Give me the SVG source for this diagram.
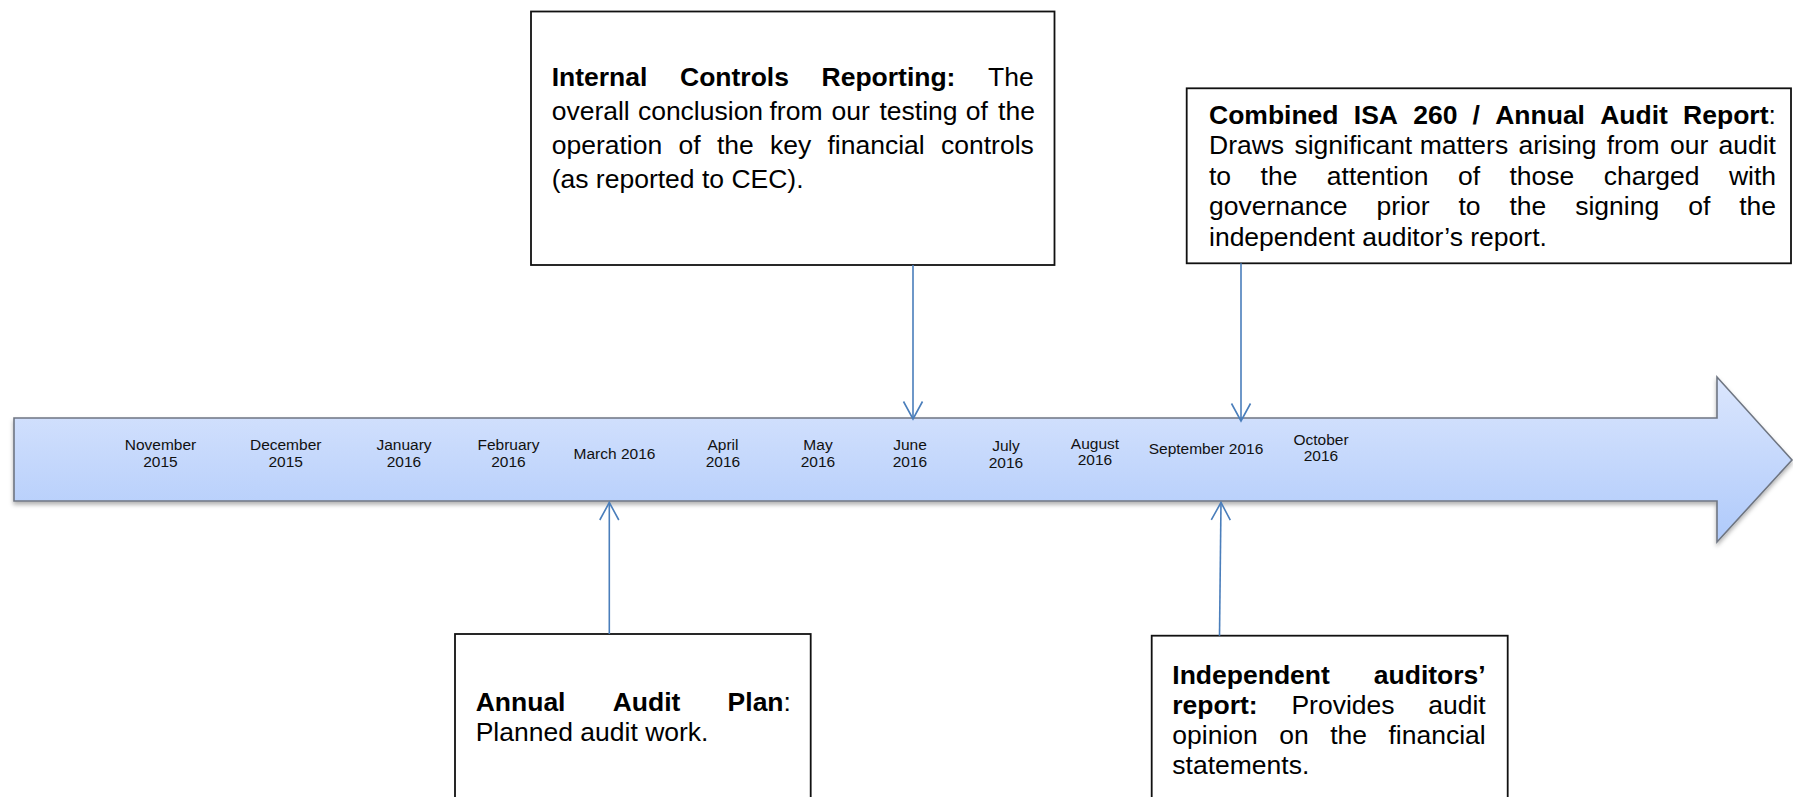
<svg xmlns="http://www.w3.org/2000/svg" width="1793" height="797" viewBox="0 0 1793 797">
  <defs>
    <linearGradient id="barFill" x1="0" y1="0" x2="0" y2="1">
      <stop offset="0" stop-color="#dbe6fd"/>
      <stop offset="1" stop-color="#afcafb"/>
    </linearGradient>
    <filter id="barShadow" x="-2%" y="-20%" width="104%" height="150%">
      <feDropShadow dx="0" dy="3" stdDeviation="2.2" flood-color="#000" flood-opacity="0.3"/>
    </filter>
    <marker id="openHead" markerUnits="userSpaceOnUse" markerWidth="24" markerHeight="24" viewBox="-20 -12 24 24" refX="0" refY="0" orient="auto" overflow="visible">
      <path d="M-17.5,-9.5 L0,0 L-17.5,9.5" fill="none" stroke="#4a7ebb" stroke-width="1.6"/>
    </marker>
    <style>
      .box { fill: #fff; stroke: #111; stroke-width: 1.8; }
      .t { font-family: "Liberation Sans", Arial, sans-serif; font-size: 26.5px; fill: #000; }
      .b { font-weight: bold; }
      .m { font-family: "Liberation Sans", Arial, sans-serif; font-size: 15.5px; fill: #111; text-anchor: middle; }
      .link { fill: none; stroke: #4a7ebb; stroke-width: 1.6; marker-end: url(#openHead); }
    </style>
  </defs>

  <!-- timeline bar -->
  <g id="timeline">
    <path d="M14,418 H1717 V377 L1792,460 L1717,542 V501 H14 Z" fill="url(#barFill)" stroke="#6f7682" stroke-width="1.6" filter="url(#barShadow)"/>
    <text class="m" y="450"><tspan x="160.5">November</tspan><tspan x="160.5" dy="16.7">2015</tspan></text>
    <text class="m" y="450"><tspan x="285.7">December</tspan><tspan x="285.7" dy="16.7">2015</tspan></text>
    <text class="m" y="450"><tspan x="404">January</tspan><tspan x="404" dy="16.7">2016</tspan></text>
    <text class="m" y="450"><tspan x="508.5">February</tspan><tspan x="508.5" dy="16.7">2016</tspan></text>
    <text class="m" x="614.5" y="459">March 2016</text>
    <text class="m" y="450"><tspan x="723">April</tspan><tspan x="723" dy="16.7">2016</tspan></text>
    <text class="m" y="450"><tspan x="818">May</tspan><tspan x="818" dy="16.7">2016</tspan></text>
    <text class="m" y="450"><tspan x="910">June</tspan><tspan x="910" dy="16.7">2016</tspan></text>
    <text class="m" y="451"><tspan x="1006">July</tspan><tspan x="1006" dy="16.7">2016</tspan></text>
    <text class="m" y="448.5"><tspan x="1095">August</tspan><tspan x="1095" dy="16.7">2016</tspan></text>
    <text class="m" x="1206" y="454">September 2016</text>
    <text class="m" y="444.5"><tspan x="1321">October</tspan><tspan x="1321" dy="16.7">2016</tspan></text>
  </g>

  <!-- Internal Controls Reporting -->
  <g id="internal-controls">
    <rect class="box" x="531" y="11.5" width="523.5" height="253.5"/>
    <text class="t" y="86"><tspan class="b" x="551.7">Internal</tspan><tspan class="b" x="680">Controls</tspan><tspan class="b" x="821.5">Reporting:</tspan><tspan x="988.1">The</tspan></text>
    <text class="t" y="120"><tspan x="551.7">overall</tspan><tspan x="637.9">conclusion</tspan><tspan x="769.5">from</tspan><tspan x="831.6">our</tspan><tspan x="879.5">testing</tspan><tspan x="965.7">of</tspan><tspan x="998.1">the</tspan></text>
    <text class="t" y="154"><tspan x="551.7">operation</tspan><tspan x="678.5">of</tspan><tspan x="716.9">the</tspan><tspan x="770">key</tspan><tspan x="827.5">financial</tspan><tspan x="941">controls</tspan></text>
    <text class="t" x="551.7" y="188">(as reported to CEC).</text>
  </g>

  <!-- Combined ISA 260 / Annual Audit Report -->
  <g id="isa-260">
    <rect class="box" x="1186.7" y="88.3" width="604.3" height="175"/>
    <text class="t" y="124"><tspan class="b" x="1209">Combined</tspan><tspan class="b" x="1353.8">ISA</tspan><tspan class="b" x="1413.2">260</tspan><tspan class="b" x="1472.6">/</tspan><tspan class="b" x="1495.2">Annual</tspan><tspan class="b" x="1600.2">Audit</tspan><tspan class="b" x="1683.1">Report</tspan><tspan>:</tspan></text>
    <text class="t" y="154.4"><tspan x="1209">Draws</tspan><tspan x="1294.4">significant</tspan><tspan x="1419.8">matters</tspan><tspan x="1518.5">arising</tspan><tspan x="1606.7">from</tspan><tspan x="1670">our</tspan><tspan x="1718.5">audit</tspan></text>
    <text class="t" y="184.8"><tspan x="1209">to</tspan><tspan x="1260.6">the</tspan><tspan x="1326.8">attention</tspan><tspan x="1458">of</tspan><tspan x="1509.5">those</tspan><tspan x="1603.8">charged</tspan><tspan x="1728.9">with</tspan></text>
    <text class="t" y="215.2"><tspan x="1209">governance</tspan><tspan x="1376.5">prior</tspan><tspan x="1458.4">to</tspan><tspan x="1509.5">the</tspan><tspan x="1575.2">signing</tspan><tspan x="1688.2">of</tspan><tspan x="1739.2">the</tspan></text>
    <text class="t" x="1209" y="245.6">independent auditor’s report.</text>
  </g>

  <!-- Annual Audit Plan -->
  <g id="audit-plan">
    <rect class="box" x="455" y="634" width="355.7" height="175"/>
    <text class="t" y="710.7"><tspan class="b" x="475.7">Annual</tspan><tspan class="b" x="612.7">Audit</tspan><tspan class="b" x="727.6">Plan</tspan><tspan>:</tspan></text>
    <text class="t" x="475.7" y="741">Planned audit work.</text>
  </g>

  <!-- Independent auditors' report -->
  <g id="auditors-report">
    <rect class="box" x="1151.7" y="635.7" width="356" height="175"/>
    <text class="t" y="684"><tspan class="b" x="1172.3">Independent</tspan><tspan class="b" x="1373.8">auditors’</tspan></text>
    <text class="t" y="714.3"><tspan class="b" x="1172.3">report:</tspan><tspan x="1291.4">Provides</tspan><tspan x="1428.2">audit</tspan></text>
    <text class="t" y="744"><tspan x="1172.3">opinion</tspan><tspan x="1279.2">on</tspan><tspan x="1330.2">the</tspan><tspan x="1388.5">financial</tspan></text>
    <text class="t" x="1172.3" y="773.8">statements.</text>
  </g>

  <!-- connectors -->
  <g id="connectors">
    <path class="link" d="M913,265 V419"/>
    <path class="link" d="M1241,263.3 V421"/>
    <path class="link" d="M609.3,634 V502.5"/>
    <path class="link" d="M1219.5,635.7 L1221,502.5"/>
  </g>
</svg>
